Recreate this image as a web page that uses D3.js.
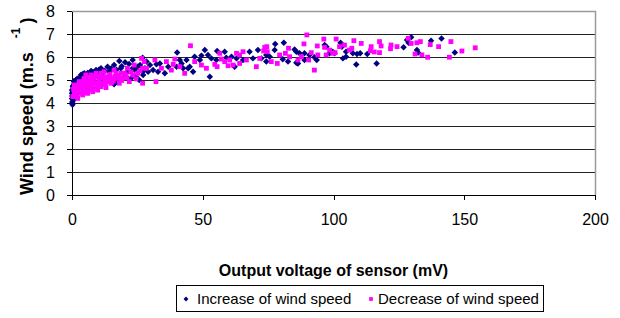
<!DOCTYPE html>
<meta charset="utf-8">
<style>
  body { margin: 0; background: #fff; }
  text { font-family: "Liberation Sans", Arial, sans-serif; fill: #000; }
  .grid line { stroke: #222; stroke-width: 1; shape-rendering: crispEdges; }
  .axis path, .axis line { stroke: #000; shape-rendering: crispEdges; }
</style>
<body>
<script src="https://cdn.jsdelivr.net/npm/d3@7/dist/d3.min.js"></script>
<script>
// Increase of wind speed : [mV, m/s]
var increasePts = [
  [0,3.99],[0,4.2],[0.3,4.35],[0,4.56],[0.3,4.71],[0.9,4.86],[1.5,5.0],[3.4,5.22],[4.7,5.29],
  [7.3,5.39],[9.2,5.43],[11.1,5.51],[13.6,5.58],[16.1,5.65],[18.1,5.83],[20.3,5.77],[23.2,5.87],
  [27,5.97],[16.8,4.93],[16.1,4.81],[21.2,5.36],[22.5,5.07],[24.4,5.14],[25.7,5.0],[23.2,5.51],
  [25.1,5.58],[27,5.36],[18.7,5.51],[14.2,5.36],[11.7,5.29],[9.8,5.22],[5.3,5.14],[2.8,5.07],
  [0,4.42],[0.5,4.13],[0.3,4.49],[20,5.14],[0.2,4.05],[0.6,4.62],[1.1,4.9],
  [0.1,4.3],[0.4,4.75],[0.7,4.95],[2.0,5.05],[4.0,5.25],[6.0,5.3],[8.0,5.35],[10.3,5.45],
  [12.5,5.4],[15,5.5],[17,5.45],[19,5.6],[21.8,5.7],[24,5.45],[26,5.65],[1.2,4.65],[0.2,3.92],
  [40.2,6.2],[50.8,6.3],[55.5,6.26],[58.4,6.23],[67.9,6.23],[71.1,6.3],[52.7,5.14],[46.3,5.36],
  [44.4,5.51],[41.9,5.72],[43.8,5.87],[46.9,6.01],[49.5,6.06],[52,6.09],[53.3,5.94],[48.9,5.87],
  [55.2,5.87],[59,5.97],[61,6.01],[62.9,5.94],[65.4,5.87],[62.2,5.58],[69.2,5.94],[72.4,5.94],
  [74.3,6.09],[28.5,5.8],[29.8,5.65],[32.3,5.68],[33.6,5.72],[36.8,5.58],[40,5.58],[42.5,5.51],
  [31,5.43],[29.1,5.36],[32.9,5.36],[35.5,5.29],[27.2,5.22],[27.9,5.51],[45,5.58],[41.2,5.87],
  [77.7,6.57],[81,6.62],[77.5,6.3],[85.1,6.33],[85.8,6.23],[87,6.16],[88.9,6.16],[90.8,6.09],
  [92.7,5.99],[93.6,5.87],[96.6,6.52],[97.3,6.45],[99.7,6.23],[100.4,6.16],[102.7,6.62],
  [103.2,6.45],[104.8,6.23],[103.6,5.94],[104.8,6.01],[107.4,6.16],[109,6.13],[110.2,6.16],
  [112.9,6.13],[108.7,5.67],[116.5,5.72],[126.8,6.42],[128.1,6.74],[129.7,6.86],[128.7,6.62],
  [131.9,6.3],[132.4,6.19],[137.3,6.71],[141.3,6.8],[146.4,6.2],[85.8,5.75],[82.6,5.8],
  [86.4,5.72],[88.9,5.87],[75.6,6.01],[74.3,5.8],[80.6,5.9],[98.5,6.16]
];

// Decrease of wind speed : [mV, m/s]
var decreasePts = [
  [0.3,4.28],[0.9,4.42],[1.5,4.28],[2.2,4.49],[1.5,4.64],[0.9,4.78],[2.8,4.71],[4.1,4.64],
  [3.4,4.42],[4.7,4.86],[5.3,4.64],[6.6,4.71],[7.3,4.93],[8.5,4.64],[9.2,4.86],[10.4,5.0],
  [11.7,4.86],[13,4.67],[13.6,4.93],[15.5,5.07],[17.4,5.07],[18.7,5.29],[21.2,5.51],[23.8,5.65],
  [25.1,5.29],[27.6,5.8],[27,5.51],[5.3,5.22],[7.3,5.22],[9.2,5.29],[11.1,5.29],[12.3,5.36],
  [14.2,5.14],[16.8,5.29],[16.1,5.43],[2.8,4.93],[2.2,4.2],[4.1,4.35],[6,4.42],[7.9,4.49],
  [9.8,4.56],[11.1,4.71],[13,5.14],[6.4,5.0],[8.5,5.07],[10.4,5.14],[4.7,5.07],[3.4,4.86],
  [19.3,5.07],[18.1,4.86],[23.2,5.22],[20.6,5.22],[21.9,4.93],[14.9,4.86],[5.6,4.81],[7.6,4.81],
  [9.8,4.75],[1.2,4.55],[3.0,4.58],[12.5,5.02],[15.8,4.95],
  [1.8,4.35],[2.5,4.8],[3.6,4.6],[4.4,4.95],[5.9,4.55],[6.2,4.9],[7,4.6],[8,4.9],[8.8,5.15],
  [9.5,4.65],[10.8,4.82],[11.5,5.1],[12.8,4.8],[13.8,5.05],[14.5,5.25],[15.2,4.9],[16.4,5.15],
  [17.8,5.2],[19,4.98],[20,5.3],[21,5.1],[22.5,5.35],[24.5,5.05],[26,5.4],[0.6,4.6],[1.0,4.35],
  [2.0,4.7],[3.9,4.8],[5.0,4.45],[6.8,5.1],
  [45.3,6.49],[26.6,5.94],[31.7,5.87],[32.1,4.93],[27,4.86],[28.5,5.51],[34.2,5.51],[36.1,5.8],
  [39.3,5.91],[38.7,5.68],[38,5.43],[41.2,5.58],[43.1,5.29],[46.9,5.8],[49.5,5.65],[51.4,5.51],
  [56.5,6.16],[54.6,5.68],[55.5,5.58],[58.4,5.8],[59.7,5.62],[62.9,6.16],[64.1,6.09],[65.4,6.23],
  [66.7,5.87],[64.1,5.72],[61.6,5.65],[70.5,5.58],[71.8,5.94],[73.3,6.26],[74.5,6.45],[57.1,5.91],
  [60.3,5.87],
  [89.8,6.96],[96.3,6.78],[101,6.78],[107.8,6.71],[104.2,6.52],[110.6,6.59],[114.4,6.45],
  [117.6,6.67],[118.2,6.48],[122,6.52],[124.3,6.45],[121.8,6.36],[117.6,6.19],[115.6,6.22],
  [128.6,6.81],[129.7,6.59],[131.9,6.62],[133.2,6.67],[137,6.54],[140.2,6.45],[144.9,6.67],
  [149.1,6.26],[154.2,6.4],[144.3,5.99],[136,5.99],[133.8,6.09],[131.2,6.13],[92.7,5.43],
  [93.8,6.48],[88.7,6.57],[98.5,6.3],[97.2,6.09],[100.6,6.19],[102.3,6.45],[106.1,6.3],[107,6.38],
  [96.6,6.42],[91.5,6.19],[90.5,5.87],[87.7,6.01],[86.4,5.87],[82.8,6.38],[81.6,6.16],[79.4,6.09],
  [78.5,5.72],[76.2,5.8],[74.7,6.23],[73.7,6.42],[83.2,6.01],[94,6.09],[99.7,6.16],[114.1,6.27]
];

var xTicks = [0, 50, 100, 150, 200];
var yTicks = [0, 1, 2, 3, 4, 5, 6, 7, 8];
var seriesNames = ["Increase of wind speed", "Decrease of wind speed"];
var seriesColors = ["#000080", "#ff00ff"];

var W = 620, H = 318;
var plot = {left: 72, right: 595, top: 11, bottom: 195};

var svg = d3.select("body").append("svg")
    .attr("width", W)
    .attr("height", H);

var x = d3.scaleLinear().domain([0, 200]).range([plot.left, plot.right]);
var y = d3.scaleLinear().domain([0, 8]).range([plot.bottom, plot.top]);

// gridlines
svg.append("g").attr("class", "grid")
  .selectAll("line")
  .data(yTicks.filter(function(d) { return d > 0 && d < 8; }))
  .enter().append("line")
    .attr("x1", plot.left).attr("x2", plot.right)
    .attr("y1", function(d) { return Math.round(y(d)) + 0.5; })
    .attr("y2", function(d) { return Math.round(y(d)) + 0.5; });

// plot border (top & right)
svg.append("path")
    .attr("d", "M" + plot.left + "," + (plot.top + 0.5) + "H" + (plot.right + 0.5) + "V" + plot.bottom)
    .attr("fill", "none")
    .attr("stroke", "#9a9a9a")
    .attr("stroke-width", 1.5);

// axes
svg.append("g").attr("class", "axis")
    .attr("transform", "translate(0," + plot.bottom + ")")
    .call(d3.axisBottom(x).tickValues(xTicks).tickSize(5).tickSizeOuter(0).tickPadding(14));
svg.append("g").attr("class", "axis")
    .attr("transform", "translate(" + plot.left + ",0)")
    .call(d3.axisLeft(y).tickValues(yTicks).tickSize(5).tickSizeOuter(0).tickPadding(12));

svg.selectAll(".axis text")
    .style("font-family", "'Liberation Sans', Arial, sans-serif")
    .style("font-size", "16px")
    .attr("fill", "#000");

var diamond = d3.symbol().type(d3.symbolSquare).size(21);
var square = d3.symbol().type(d3.symbolSquare).size(23);

// series
svg.append("g").selectAll("path")
  .data(increasePts)
  .enter().append("path")
    .attr("d", diamond)
    .attr("transform", function(d) { return "translate(" + x(d[0]) + "," + y(d[1]) + ") rotate(45)"; })
    .attr("fill", seriesColors[0]);

svg.append("g").selectAll("path")
  .data(decreasePts)
  .enter().append("path")
    .attr("d", square)
    .attr("transform", function(d) { return "translate(" + x(d[0]) + "," + y(d[1]) + ")"; })
    .attr("fill", seriesColors[1]);

// axis titles
svg.append("text")
    .attr("x", (plot.left + plot.right) / 2)
    .attr("y", 276)
    .attr("text-anchor", "middle")
    .style("font-weight", "bold")
    .style("font-size", "16px")
    .text("Output voltage of sensor (mV)");

var yt = svg.append("text")
    .attr("transform", "translate(33,195) rotate(-90)")
    .style("font-weight", "bold")
    .style("font-size", "18px");
yt.append("tspan").text("Wind speed (m.s");
yt.append("tspan").attr("dx", 14).attr("dy", -13).style("font-size", "12px").text("-1");
yt.append("tspan").attr("dx", 4).attr("dy", 13).text(")");

// legend
var lg = svg.append("g").attr("transform", "translate(176,285)");
lg.append("rect")
    .attr("x", 0.5).attr("y", 0.5)
    .attr("width", 367).attr("height", 26)
    .attr("fill", "#fff")
    .attr("stroke", "#000");
lg.append("path")
    .attr("d", d3.symbol().type(d3.symbolSquare).size(12))
    .attr("transform", "translate(10,14) rotate(45)")
    .attr("fill", seriesColors[0]);
lg.append("text").attr("x", 21).attr("y", 19).style("font-size", "15px").text(seriesNames[0]);
lg.append("path")
    .attr("d", d3.symbol().type(d3.symbolSquare).size(14))
    .attr("transform", "translate(195,14)")
    .attr("fill", seriesColors[1]);
lg.append("text").attr("x", 202).attr("y", 19).style("font-size", "15px").text(seriesNames[1]);
</script>
</body>
